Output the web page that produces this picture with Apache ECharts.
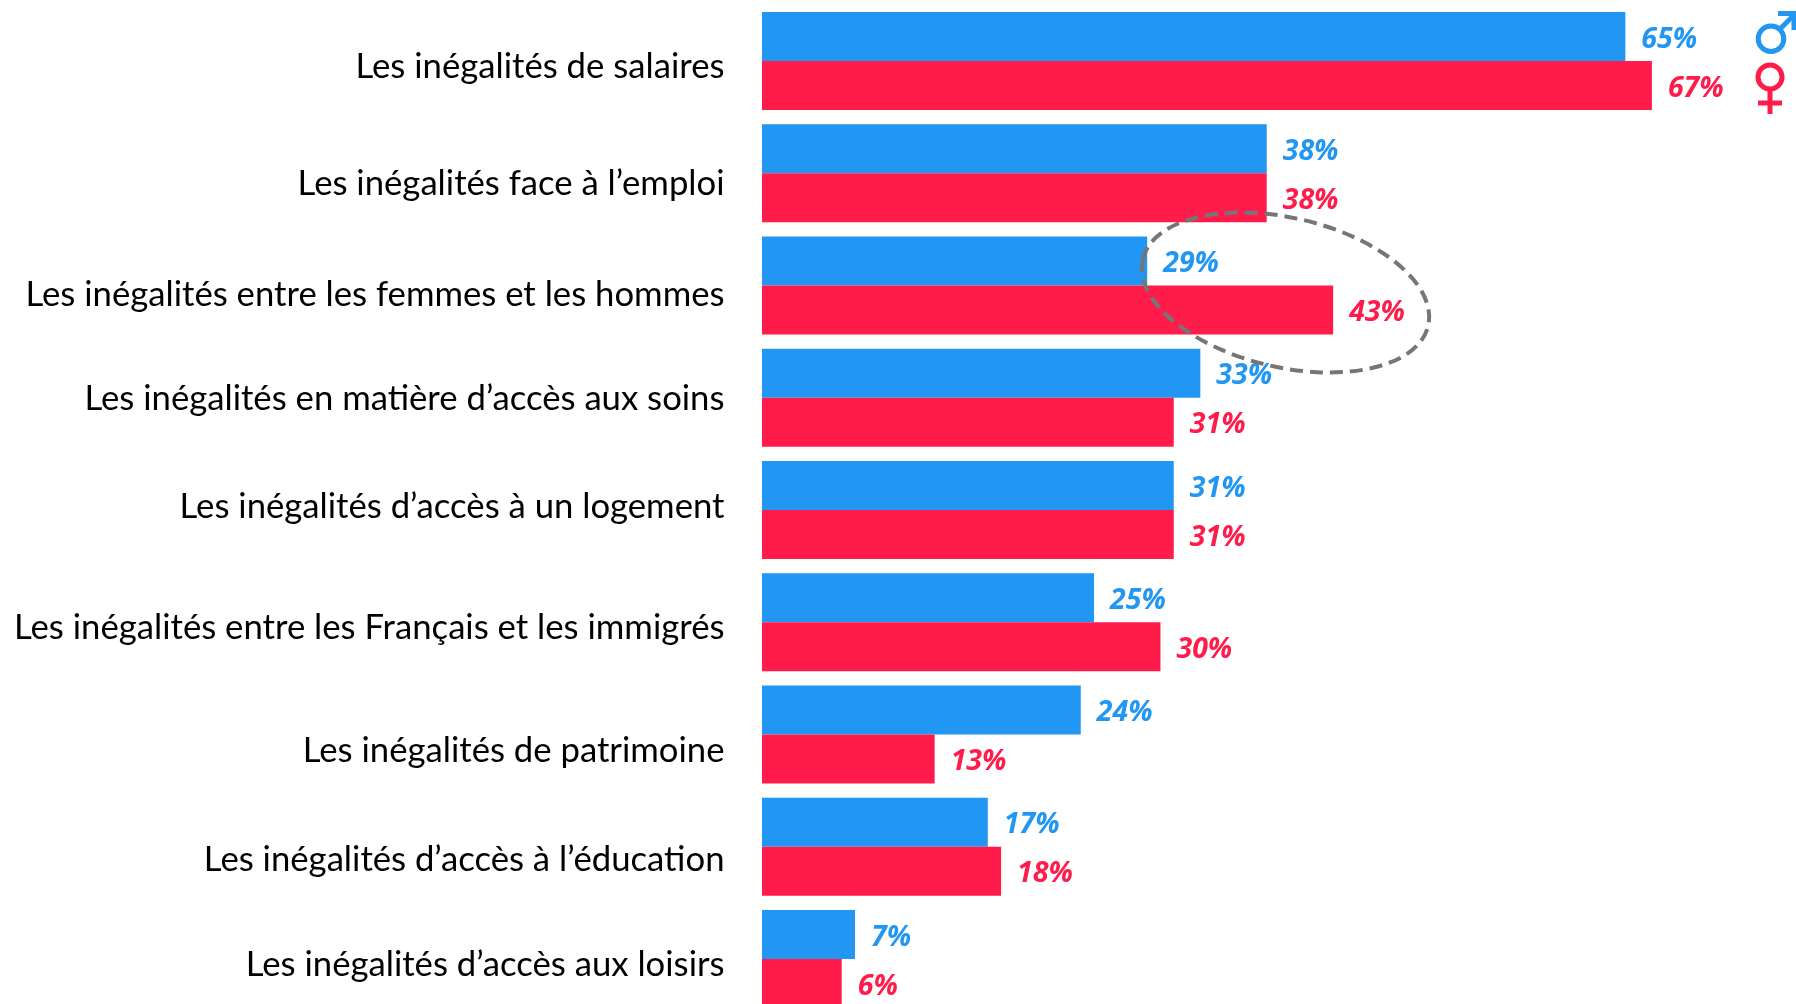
<!DOCTYPE html>
<html><head><meta charset="utf-8">
<style>html,body{margin:0;padding:0;background:#fff;overflow:hidden}#c{width:1796px;height:1004px}</style>
<script src="https://cdn.jsdelivr.net/npm/echarts@6/dist/echarts.min.js"></script>
</head><body><div id="c"></div>
<script>
const categories = ["Les inégalités de salaires","Les inégalités face à l’emploi","Les inégalités entre les femmes et les hommes","Les inégalités en matière d’accès aux soins","Les inégalités d’accès à un logement","Les inégalités entre les Français et les immigrés","Les inégalités de patrimoine","Les inégalités d’accès à l’éducation","Les inégalités d’accès aux loisirs"];
const hommes = [65,38,29,33,31,25,24,17,7];
const femmes = [67,38,43,31,31,30,13,18,6];
const labelShift = [6,10,9,1,-3,6,16,13,6];
const BLUE = "#2196F3", RED = "#FF1C4A", GREY = "#767676";
const chart = echarts.init(document.getElementById('c'), null, {renderer:'canvas'});
const valLabel = (color) => ({show:true, position:'right', distance:16, offset:[0,3], formatter:'{c}%', color,
  fontFamily:'Open Sans', fontWeight:'bold', fontStyle:'italic', fontSize:28.5});
const rich = {};
labelShift.forEach((d,i)=>{
  rich['r'+i] = {color:'#000', fontFamily:'Lato', fontSize:34.7,
    padding: d>=0 ? [2*d,0,0,0] : [0,0,-2*d,0]};
});
chart.setOption({
  animation:false,
  backgroundColor:'#fff',
  grid:{left:762, top:5, width:1036, height:1010, containLabel:false, outerBoundsMode:'none'},
  xAxis:{type:'value', min:0, max:78, show:false},
  yAxis:{type:'category', inverse:true, data:categories,
    axisLine:{show:false}, axisTick:{show:false},
    axisLabel:{margin:37.5, interval:0, formatter:(v,i)=>`{r${i}|${v}}`, rich}},
  series:[
    {name:'Hommes', type:'bar', data:hommes, barWidth:49, barGap:0, itemStyle:{color:BLUE}, label:valLabel(BLUE)},
    {name:'Femmes', type:'bar', data:femmes, barWidth:49, barGap:0, itemStyle:{color:RED}, label:valLabel(RED)}
  ],
  graphic:[
    {type:'ellipse', z:100, x:1285.5, y:292.5, rotation:-0.229, shape:{cx:0,cy:0,rx:146.5,ry:74.7},
     style:{fill:null, stroke:GREY, lineWidth:4, lineDash:[13,7]}},
    {type:'circle', z:100, shape:{cx:1771,cy:38.7,r:12.8}, style:{fill:null, stroke:BLUE, lineWidth:5}},
    {type:'polyline', z:100, shape:{points:[[1780,29],[1796,13]]}, style:{fill:null, stroke:BLUE, lineWidth:5}},
    {type:'polyline', z:100, shape:{points:[[1778,13.5],[1794,13.5],[1794,30]]}, style:{fill:null, stroke:BLUE, lineWidth:5}},
    {type:'circle', z:100, shape:{cx:1770,cy:77,r:12}, style:{fill:null, stroke:RED, lineWidth:5}},
    {type:'line', z:100, shape:{x1:1770,y1:89,x2:1770,y2:114}, style:{stroke:RED, lineWidth:5}},
    {type:'line', z:100, shape:{x1:1758,y1:103,x2:1782,y2:103}, style:{stroke:RED, lineWidth:5}}
  ]
});
</script></body></html>
